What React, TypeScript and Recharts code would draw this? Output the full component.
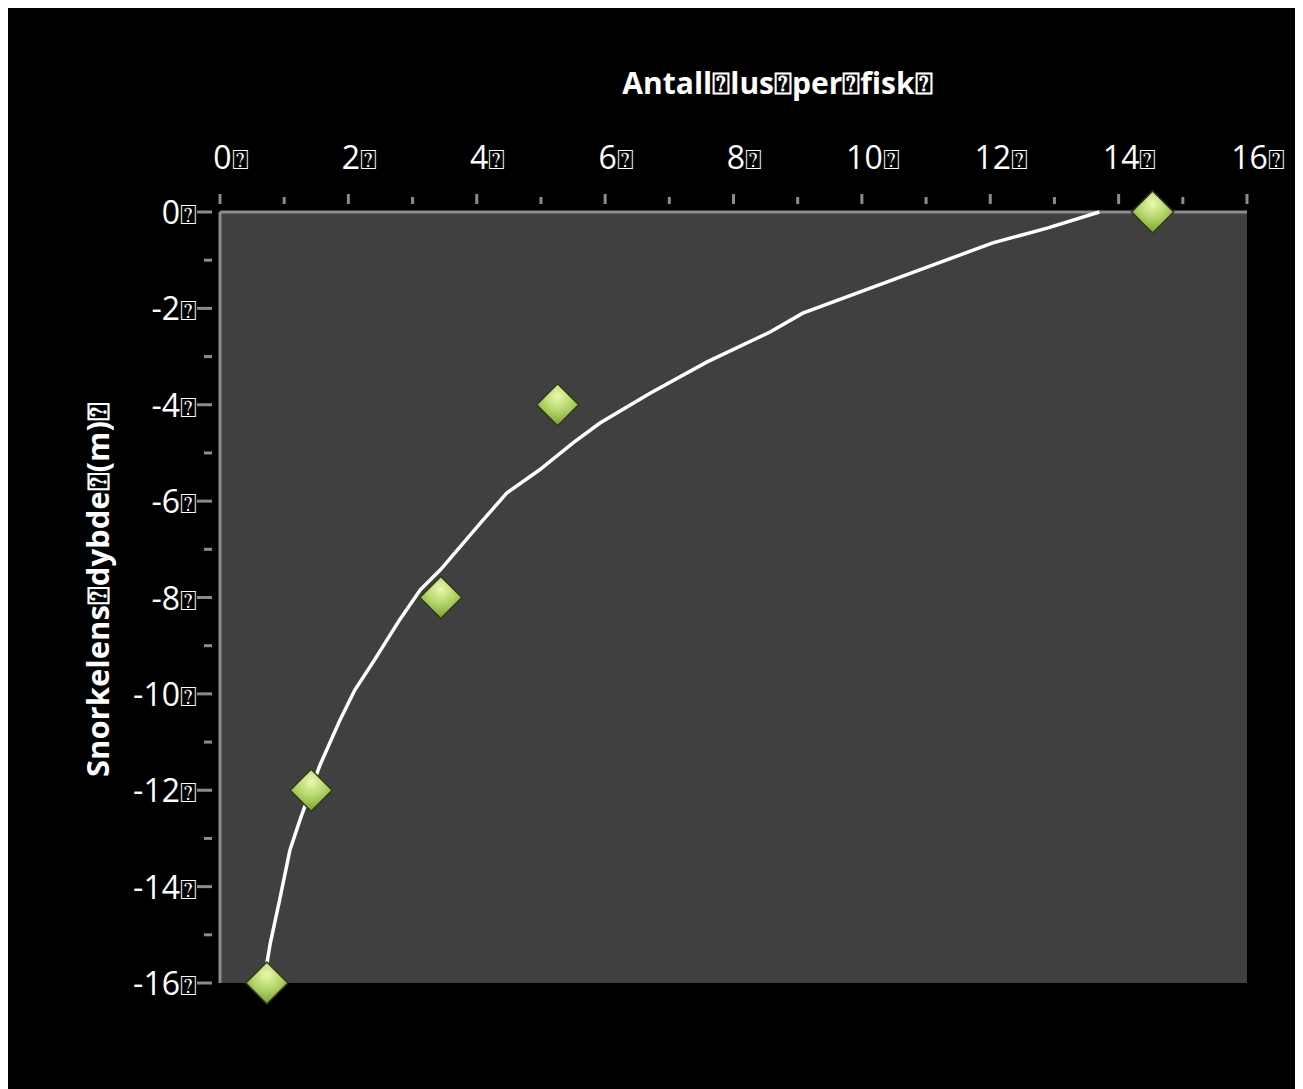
import React from 'react';
import {
  ScatterChart,
  Scatter,
  XAxis,
  YAxis,
  CartesianGrid,
  Label,
} from 'recharts';

const lusPerFisk = [0.73, 1.42, 3.44, 5.26, 14.53];
const dybde = [-16, -12, -8, -4, 0];

// trend line (x at each depth)
const trendX = [13.7, 12.9, 12.04, 10.48, 9.08, 8.57, 7.59, 6.7, 5.92, 5.5, 4.98, 4.47, 4.1, 3.43, 3.12, 2.8, 2.41, 2.1, 1.87, 1.56, 1.25, 1.09, 0.93, 0.78, 0.73];
const trendY = [0, -0.33, -0.64, -1.41, -2.1, -2.49, -3.11, -3.76, -4.38, -4.79, -5.35, -5.83, -6.39, -7.43, -7.84, -8.46, -9.29, -9.92, -10.54, -11.47, -12.6, -13.24, -14.27, -15.2, -15.6];

const xTicks = [0, 1, 2, 3, 4, 5, 6, 7, 8, 9, 10, 11, 12, 13, 14, 15, 16];
const yTicks = [0, -1, -2, -3, -4, -5, -6, -7, -8, -9, -10, -11, -12, -13, -14, -15, -16];

const BOX = '\u2370';
const FONT = '"Open Sans", "DejaVu Sans", sans-serif';
const AXIS = '#8c8c8c';

const points = lusPerFisk.map((x, i) => ({ x, y: dybde[i] }));
const trend = trendX.map((x, i) => ({ x, y: trendY[i] }));

const XTick = (props: any) => {
  const { x, y, payload } = props;
  const major = payload.value % 2 === 0;
  return (
    <g>
      <line x1={x} x2={x} y1={y} y2={y - (major ? 10 : 7)} stroke={AXIS} strokeWidth={3} />
      {major && (
        <text x={x + 11} y={y - 35} textAnchor="middle" fill="#fff" fontSize={32} fontFamily={FONT}>
          {payload.value}
          <tspan fontSize={28}>{BOX}</tspan>
        </text>
      )}
    </g>
  );
};

const YTick = (props: any) => {
  const { x, y, payload } = props;
  const major = payload.value % 2 === 0;
  return (
    <g>
      <line x1={x} x2={x - (major ? 15 : 8)} y1={y} y2={y} stroke={AXIS} strokeWidth={3} />
      {major && (
        <text x={x - 15} y={y + 12} textAnchor="end" fill="#fff" fontSize={32} fontFamily={FONT}>
          {payload.value}
          <tspan fontSize={28}>{BOX}</tspan>
        </text>
      )}
    </g>
  );
};

const Diamond = (props: any) => {
  const { cx, cy } = props;
  const r = 21;
  return (
    <path
      d={`M${cx},${cy - r} L${cx + r},${cy} L${cx},${cy + r} L${cx - r},${cy} Z`}
      fill="url(#diamondGrad)"
      stroke="#2e3a14"
      strokeWidth={1.5}
    />
  );
};

export default function App() {
  return (
    <div style={{ width: 1295, height: 1081, background: '#000' }}>
      <ScatterChart
        width={1295}
        height={1081}
        margin={{ top: 144, right: 56, bottom: 106, left: 112 }}
      >
        <defs>
          <radialGradient id="diamondGrad" cx="50%" cy="30%" r="70%">
            <stop offset="0%" stopColor="#eaf8b0" />
            <stop offset="50%" stopColor="#b4d66a" />
            <stop offset="100%" stopColor="#7a9e36" />
          </radialGradient>
        </defs>
        <CartesianGrid fill="#404040" stroke="none" horizontal={false} vertical={false} />
        <XAxis
          type="number"
          dataKey="x"
          orientation="top"
          domain={[0, 16]}
          ticks={xTicks}
          interval={0}
          height={60}
          axisLine={{ stroke: AXIS, strokeWidth: 3 }}
          tickLine={false}
          tick={<XTick />}
        >
          <Label
            value={`Antall${BOX}lus${BOX}per${BOX}fisk${BOX}`}
            position="top"
            offset={58}
            dx={44}
            fill="#fff"
            fontSize={30}
            fontWeight="bold"
            fontFamily={FONT}
          />
        </XAxis>
        <YAxis
          type="number"
          dataKey="y"
          domain={[-16, 0]}
          ticks={yTicks}
          interval={0}
          width={100}
          axisLine={{ stroke: AXIS, strokeWidth: 3 }}
          tickLine={false}
          tick={<YTick />}
        >
          <Label
            value={`Snorkelens${BOX}dybde${BOX}(m)${BOX}`}
            angle={-90}
            position="insideLeft"
            offset={-22}
            dy={-8}
            fill="#fff"
            fontSize={31}
            fontWeight="bold"
            fontFamily={FONT}
            style={{ textAnchor: 'middle' }}
          />
        </YAxis>
        <Scatter
          data={trend}
          line={{ stroke: '#fff', strokeWidth: 3.5 }}
          lineType="joint"
          shape={() => null}
          isAnimationActive={false}
        />
        <Scatter data={points} shape={<Diamond />} isAnimationActive={false} />
      </ScatterChart>
    </div>
  );
}
